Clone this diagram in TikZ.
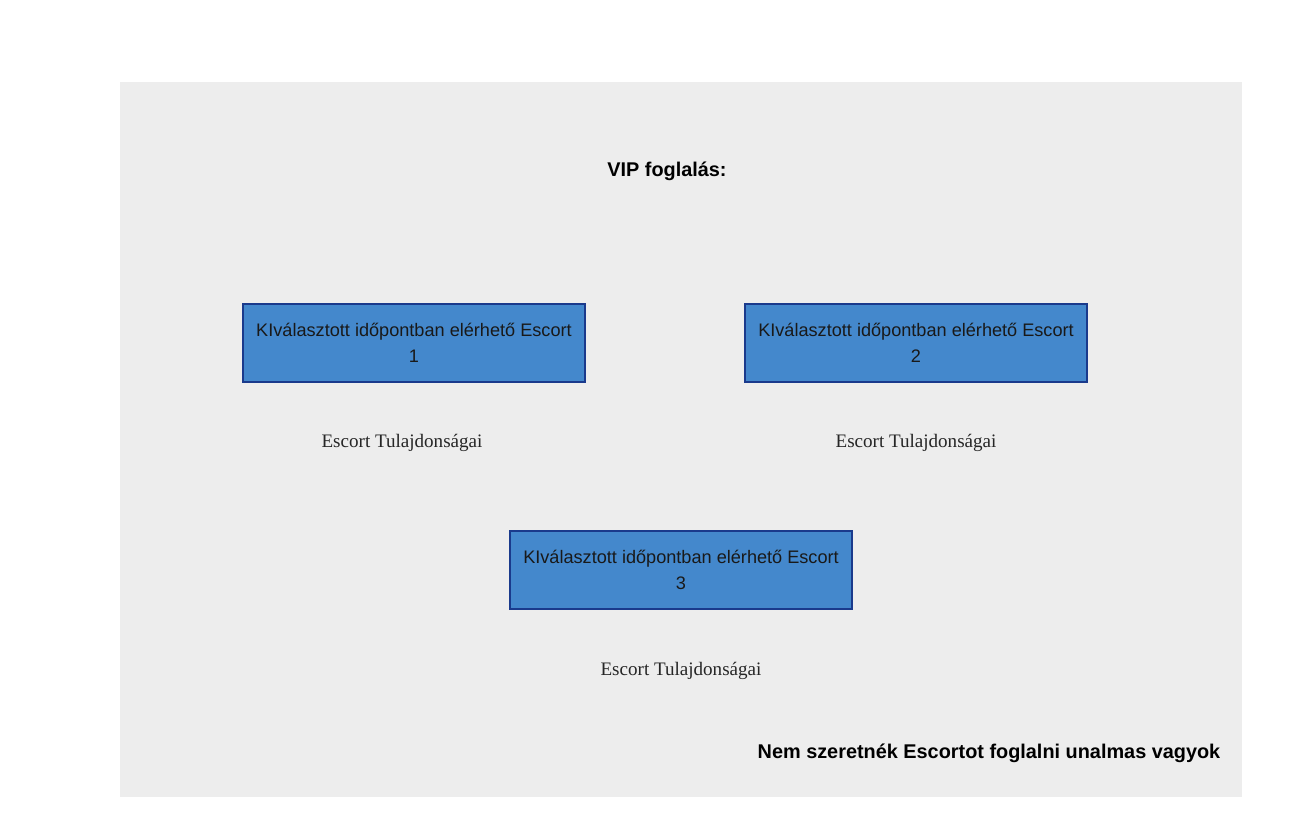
\documentclass[tikz,border=0pt]{standalone}
\usepackage{fontspec}
\setmainfont{Liberation Serif}
\setsansfont{Liberation Sans}
\definecolor{panel}{HTML}{EDEDED}
\definecolor{boxfill}{HTML}{4488CC}
\definecolor{boxline}{HTML}{1A3A8C}
\begin{document}
\begin{tikzpicture}[x=0.75pt,y=-0.75pt,
    escortbox/.style={draw=boxline,line width=1.5pt,fill=boxfill,minimum width=342*0.75pt,minimum height=78*0.75pt,inner sep=0pt,align=center,font=\sffamily\fontsize{13.6}{19.5}\selectfont,text=black!90},
    props/.style={font=\rmfamily\fontsize{14.3}{16}\selectfont,text=black!85},
    heading/.style={font=\sffamily\bfseries\fontsize{14.9}{17}\selectfont}]
                \useasboundingbox (0,0) rectangle (1313,834);
                \fill[panel] (120,82) rectangle (1242,797);
                \node[heading]  (0) at (667, 171) {VIP foglalás:};
                \node[escortbox]  (1) at (414, 343) {KIválasztott időpontban elérhető Escort\\1};
                \node[escortbox]  (2) at (916, 343) {KIválasztott időpontban elérhető Escort\\2};
                \node[escortbox]  (3) at (681, 570) {KIválasztott időpontban elérhető Escort\\3};
                \node[props]  (11) at (402, 443) {Escort Tulajdonságai};
                \node[props]  (12) at (916, 443) {Escort Tulajdonságai};
                \node[props]  (13) at (681, 671) {Escort Tulajdonságai};
                \node[heading]  (20) at (989, 753) {Nem szeretnék Escortot foglalni unalmas vagyok};
\end{tikzpicture}
\end{document}
